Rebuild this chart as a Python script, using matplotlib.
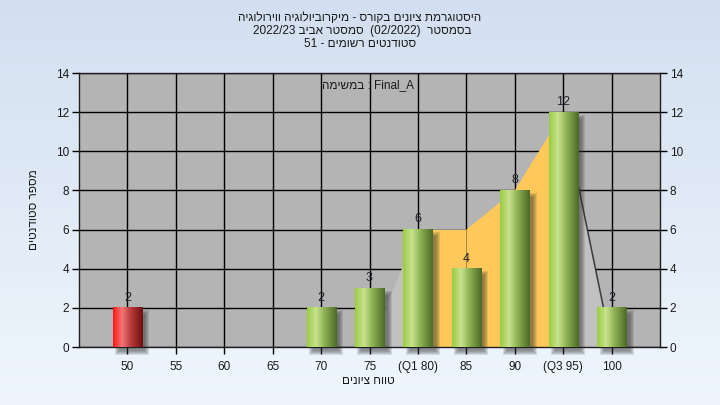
import numpy as np
import matplotlib
matplotlib.use('Agg')
import matplotlib.pyplot as plt
from matplotlib.colors import LinearSegmentedColormap
from matplotlib.patches import Rectangle, Polygon
import matplotlib.transforms as mtransforms

# ---------------- data ----------------
categories = ['50', '55', '60', '65', '70', '75', '(Q1 80)', '85', '90', '(Q3 95)', '100']
counts = [2, 0, 0, 0, 2, 3, 6, 4, 8, 12, 2]
failing = [True, False, False, False, False, False, False, False, False, False, False]
area_vals = [np.nan, np.nan, np.nan, np.nan, np.nan, 0, 6, 6, 8, 12, 0]
y_ticks = [0, 2, 4, 6, 8, 10, 12, 14]

title_line1 = "היסטוגרמת ציונים בקורס - מיקרוביולוגיה ווירולוגיה"
title_line2_heb_a = "בסמסטר"
title_line2_paren = "(02/2022)"
title_line2_heb_b = "סמסטר אביב"
title_line2_year = "2022/23"
title_line3_heb = "סטודנטים רשומים"
title_line3_num = "51"
task_heb = "במשימה"
task_name = "Final_A"
xlabel_heb = "טווח ציונים"
ylabel_heb = "מספר סטודנטים"


def rtl(s):
    """Visual order for a pure-Hebrew run."""
    return s[::-1]


plt.rcParams['font.family'] = ['Liberation Sans', 'DejaVu Sans']
FS = 8.5
TXT = '#1a1a1a'

fig = plt.figure(figsize=(7.2, 4.05), dpi=100)

# background gradient
bg = fig.add_axes([0, 0, 1, 1], zorder=-10)
top_c = np.array([0.827, 0.875, 0.941])
bot_c = np.array([0.937, 0.965, 0.992])
t = np.linspace(0, 1, 256)[:, None]
grad = top_c[None, :] * (1 - t) + bot_c[None, :] * t
bg.imshow(grad[:, None, :], aspect='auto', extent=[0, 1, 0, 1])
bg.set_xlim(0, 1); bg.set_ylim(0, 1)
bg.axis('off')

# main axes
L, R, T, B = 79, 660, 73, 347
W, H = 720, 405
ax = fig.add_axes([L / W, (H - B) / H, (R - L) / W, (B - T) / H], zorder=1)
ax.set_facecolor('#b4b4b4')

n = len(categories)
xpos = np.arange(n)
ax.set_xlim(-1, n)
ax.set_ylim(0, 14)

ax.set_xticks(xpos)
ax.set_xticklabels(categories, fontsize=FS, color=TXT)
ax.set_yticks(y_ticks)
ax.set_yticklabels([str(v) for v in y_ticks], fontsize=FS, color=TXT)
ax.tick_params(axis='y', left=True, right=True, labelleft=True, labelright=True,
               direction='out', length=5, width=1, pad=2)
ax.tick_params(axis='x', direction='out', length=5, width=1, pad=5)
ax.grid(True, color='black', lw=1, zorder=0.5)
ax.set_axisbelow(True)
for sp in ax.spines.values():
    sp.set_color('#202020')
    sp.set_linewidth(1)

# px/unit
px_x = (R - L) / (n + 1)
px_y = (B - T) / 14.0

# area (frequency polygon) - yellow between Q1 and Q3, light gray outside
q1 = [i for i, c in enumerate(categories) if 'Q1' in c][0]
q3 = [i for i, c in enumerate(categories) if 'Q3' in c][0]
av = np.array(area_vals, dtype=float)
valid = ~np.isnan(av)
for i in range(n - 1):
    if valid[i] and valid[i + 1]:
        col = '#fec95a' if (i >= q1 and i + 1 <= q3) else '#c1c1c1'
        poly = Polygon([(xpos[i], 0), (xpos[i], av[i]), (xpos[i + 1], av[i + 1]), (xpos[i + 1], 0)],
                       closed=True, facecolor=col, edgecolor='none', zorder=1)
        ax.add_patch(poly)
ax.plot([xpos[q3], xpos[q3 + 1]], [av[q3], av[q3 + 1]], color='#3a3a3a', lw=1.1, zorder=1.2)

# bars
bw = 0.6
green = LinearSegmentedColormap.from_list('g', [(0, '#98cc40'), (0.3, '#c9e28e'),
                                               (0.55, '#94b858'), (1, '#4c6826')])
red = LinearSegmentedColormap.from_list('r', [(0, '#ff1616'), (0.3, '#f27676'),
                                             (0.6, '#b83a3a'), (1, '#6e1010')])
gx = np.linspace(0, 1, 128)[None, :]

for i, (v, f) in enumerate(zip(counts, failing)):
    if v <= 0:
        continue
    x0 = xpos[i] - bw / 2
    # shadow
    off = mtransforms.ScaledTranslation(5 / 100, -5 / 100, fig.dpi_scale_trans)
    for k in range(5):
        ex = (k - 1.5) / px_x
        ey = (k - 1.5) / px_y
        sh = Rectangle((x0 - ex, -ey), bw + 2 * ex, v + 2 * ey,
                       facecolor='#303030', edgecolor='none', alpha=0.13,
                       transform=ax.transData + off, zorder=2, clip_on=False)
        ax.add_patch(sh)
    cmap = red if f else green
    ax.imshow(cmap(gx), extent=[x0, x0 + bw, 0, v], aspect='auto',
              interpolation='bilinear', zorder=3)
    ax.annotate(str(v), (xpos[i], v), xytext=(0, 3), textcoords='offset points',
                ha='center', va='bottom', fontsize=FS + 0.5, color='#202030', zorder=5)

ax.set_xlim(-1, n)
ax.set_ylim(0, 14)

# task label
ax.text(0.497, 0.955, rtl(task_heb) + " : " + task_name, transform=ax.transAxes,
        ha='center', va='center', fontsize=FS, color=TXT, zorder=6)

# titles
fig.text(360 / W, 1 - 18 / H, rtl(title_line1), ha='center', va='center', fontsize=FS, color=TXT)
fig.text(362 / W, 1 - 31 / H, title_line2_year + " " + rtl(title_line2_heb_b) + "  " +
         title_line2_paren + "  " + rtl(title_line2_heb_a),
         ha='center', va='center', fontsize=FS, color=TXT)
fig.text(360 / W, 1 - 44 / H, title_line3_num + " - " + rtl(title_line3_heb),
         ha='center', va='center', fontsize=FS, color=TXT)

# axis labels
fig.text(368 / W, 1 - 381 / H, rtl(xlabel_heb), ha='center', va='center', fontsize=FS, color=TXT)
fig.text(34 / W, 1 - 210 / H, rtl(ylabel_heb), ha='center', va='center', fontsize=FS,
         color=TXT, rotation=90)

fig.savefig('out.png', dpi=100)
